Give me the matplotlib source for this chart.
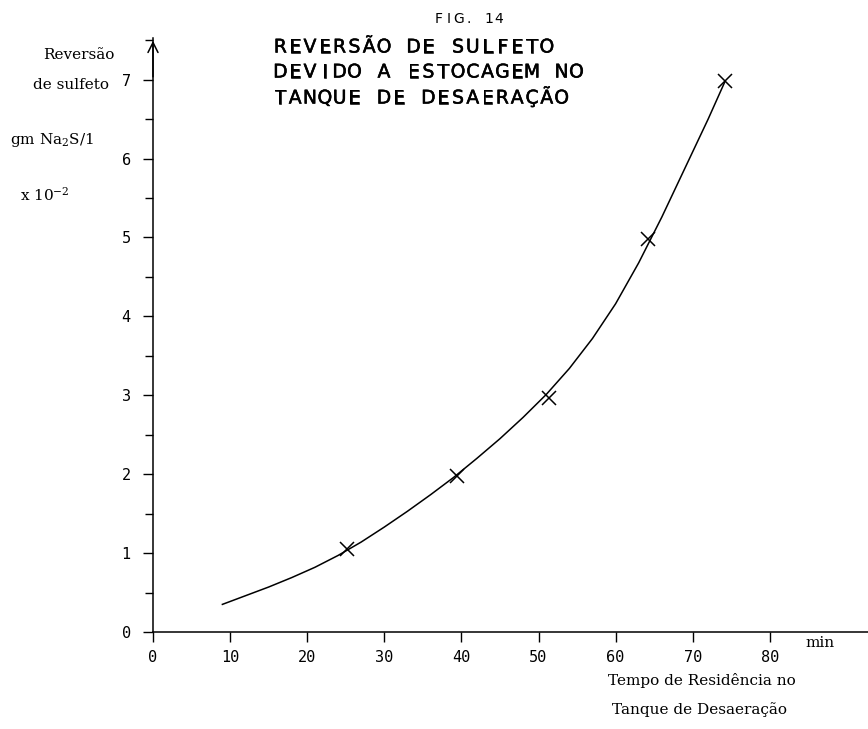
import matplotlib
matplotlib.use("Agg")
import matplotlib.pyplot as plt
import matplotlib.patheffects as pe
from matplotlib.ticker import MultipleLocator

# === Data ===
# measured points (X markers)
tempo_pts = [25.2, 39.4, 51.4, 64.2, 74.2]
reversao_pts = [1.05, 1.98, 2.97, 4.98, 6.98]

# hand-drawn fitted curve
curva_x = [9, 12, 15, 18, 21, 24, 27, 30, 33, 36, 39, 42, 45, 48, 51, 54,
           57, 60, 63, 66, 69, 72, 74.2]
curva_y = [0.35, 0.46, 0.57, 0.69, 0.82, 0.97, 1.14, 1.33, 1.53, 1.74, 1.96,
           2.20, 2.45, 2.72, 3.01, 3.34, 3.72, 4.16, 4.68, 5.26, 5.88, 6.50, 6.98]

x_ticks = [0, 10, 20, 30, 40, 50, 60, 70, 80]
y_ticks = [0, 1, 2, 3, 4, 5, 6, 7]

W, H = 868, 729
plt.rcParams['mathtext.fontset'] = 'dejavuserif'

fig = plt.figure(figsize=(W / 100, H / 100), dpi=100)
ax = fig.add_axes([153 / W, 1 - 632 / H, 1 - 153 / W, (632 - 38) / H])

ax.plot(curva_x, curva_y, color='black', lw=1.1)
ax.plot(tempo_pts, reversao_pts, linestyle='none', marker='x', color='black',
        markersize=10, markeredgewidth=1.1)

ax.set_xlim(0, (W - 153) / 7.71)
ax.set_ylim(0, (632 - 38) / 78.9)

for s in ['top', 'right']:
    ax.spines[s].set_visible(False)
ax.spines['left'].set_linewidth(1.1)
ax.spines['bottom'].set_linewidth(1.1)

ax.set_xticks(x_ticks)
ax.set_yticks(y_ticks)
ax.yaxis.set_minor_locator(MultipleLocator(0.5))
ax.tick_params(axis='x', direction='out', length=7, width=1, pad=6)
ax.tick_params(axis='y', which='major', direction='out', length=7, width=1, pad=9)
ax.tick_params(axis='y', which='minor', direction='out', length=6, width=1)
for lab in ax.get_xticklabels() + ax.get_yticklabels():
    lab.set_family('DejaVu Sans Mono')
    lab.set_fontsize(11)

# arrow on top of y axis
ax.annotate('', xy=(0, 1.0), xytext=(0, 0.93), xycoords='axes fraction',
            arrowprops=dict(arrowstyle='->', color='black', lw=1.1,
                            mutation_scale=18),
            annotation_clip=False)

thick = [pe.withStroke(linewidth=0.4, foreground='black')]


def spaced(x0, y, s, pitch, **kw):
    # plotter-style lettering with fixed character pitch
    for i, ch in enumerate(s):
        fig.text((x0 + pitch / 2 + i * pitch) / W, 1 - y / H, ch,
                 ha='center', va='center', **kw)


spaced(434, 19, "FIG. 14", 10.0, family='DejaVu Sans', fontsize=10)
spaced(273, 47, "REVERSÃO DE SULFETO", 14.8, family='DejaVu Sans',
       fontsize=13.5, path_effects=thick)
spaced(273, 72, "DEVIDO A ESTOCAGEM NO", 14.8, family='DejaVu Sans',
       fontsize=13.5, path_effects=thick)
spaced(273, 98, "TANQUE DE DESAERAÇÃO", 14.8, family='DejaVu Sans',
       fontsize=13.5, path_effects=thick)

serif = dict(family='DejaVu Serif', fontsize=11, va='center', ha='left')
fig.text(43 / W, 1 - 55 / H, "Reversão", **serif)
fig.text(33 / W, 1 - 85 / H, "de sulfeto", **serif)
fig.text(10 / W, 1 - 140 / H, r"gm Na$_2$S/1", **serif)
fig.text(20 / W, 1 - 195 / H, r"x 10$^{-2}$", **serif)

fig.text(805 / W, 1 - 643 / H, "min", **serif)
fig.text(608 / W, 1 - 680 / H, "Tempo de Residência no", **serif)
fig.text(612 / W, 1 - 710 / H, "Tanque de Desaeração", **serif)

fig.savefig("out.png", dpi=100)
